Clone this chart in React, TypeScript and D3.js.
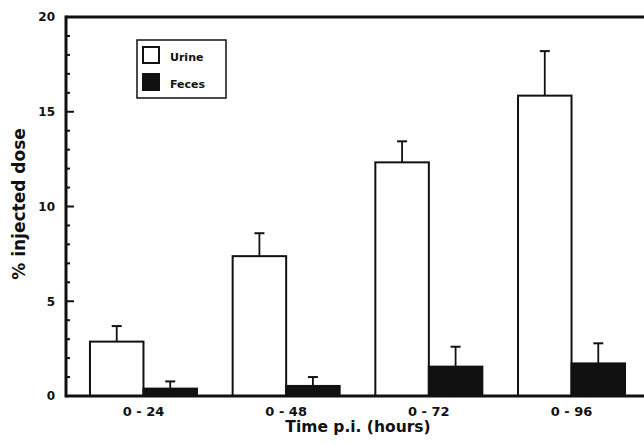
import React from 'react';
import * as d3 from 'd3';

// values
const categories = ['0 - 24', '0 - 48', '0 - 72', '0 - 96'];
const seriesNames = ['Urine', 'Feces'];
const urine = [2.87, 7.38, 12.33, 15.85];
const urineErr = [0.82, 1.21, 1.11, 2.35];
const feces = [0.39, 0.53, 1.55, 1.72];
const fecesErr = [0.38, 0.47, 1.05, 1.06];
const majorTicks = [0, 5, 10, 15, 20];

const W = 644;
const H = 445;
const left = 66;
const top = 17;
const bottom = 396;
const font = '"DejaVu Sans", Verdana, sans-serif';

export default function App() {
  const x = d3.scaleBand<string>()
    .domain(categories)
    .range([left, 649])
    .paddingInner(0.25)
    .paddingOuter(0.168);
  const sub = d3.scaleBand<string>().domain(seriesNames).range([0, x.bandwidth()]);
  const y = d3.scaleLinear().domain([0, 20]).range([bottom, top]);
  const minor = d3.range(0, 21);

  const series = [
    { name: 'Urine', values: urine, errs: urineErr, fill: '#fff' },
    { name: 'Feces', values: feces, errs: fecesErr, fill: '#111' },
  ];

  return (
    <svg width={W} height={H} style={{ position: 'absolute', left: 0, top: 0, background: '#fff' }}>
      {/* bars + error bars */}
      {series.map(s =>
        categories.map((c, i) => {
          const bx = (x(c) ?? 0) + (sub(s.name) ?? 0);
          const bw = sub.bandwidth();
          const cx = bx + bw / 2;
          const yTop = y(s.values[i]);
          const yErr = y(s.values[i] + s.errs[i]);
          return (
            <g key={s.name + c}>
              <line x1={cx} x2={cx} y1={yTop} y2={yErr} stroke="#111" strokeWidth={1.8} />
              <line x1={cx - 5} x2={cx + 5} y1={yErr} y2={yErr} stroke="#111" strokeWidth={2} />
              <rect x={bx} y={yTop} width={bw} height={bottom - yTop} fill={s.fill} stroke="#111" strokeWidth={2} />
            </g>
          );
        })
      )}

      {/* frame */}
      <line x1={left} x2={W} y1={top} y2={top} stroke="#111" strokeWidth={3} />
      <line x1={left} x2={W} y1={bottom} y2={bottom} stroke="#111" strokeWidth={3} />
      <line x1={left} x2={left} y1={top - 1.5} y2={bottom + 1.5} stroke="#111" strokeWidth={3} />

      {/* y ticks, inward */}
      {minor.map(v => (
        <line key={'t' + v} x1={left} x2={left + (v % 5 === 0 ? 8 : 4)} y1={y(v)} y2={y(v)} stroke="#111" strokeWidth={2} />
      ))}
      {majorTicks.map(v => (
        <text key={'l' + v} x={55} y={y(v)} dy="0.36em" textAnchor="end" fontFamily={font} fontWeight={700} fontSize={12} fill="#111">
          {v}
        </text>
      ))}

      {/* x labels */}
      {categories.map(c => (
        <text key={c} x={(x(c) ?? 0) + x.bandwidth() / 2} y={416} textAnchor="middle" fontFamily={font} fontWeight={700} fontSize={13} fill="#111">
          {c}
        </text>
      ))}

      <text x={358} y={432} textAnchor="middle" fontFamily={font} fontWeight={700} fontSize={15.5} fill="#111">
        Time p.i. (hours)
      </text>
      <text transform="translate(25,204) rotate(-90)" textAnchor="middle" fontFamily={font} fontWeight={700} fontSize={17} fill="#111">
        % injected dose
      </text>

      {/* legend */}
      <rect x={137} y={40} width={89} height={58} fill="#fff" stroke="#111" strokeWidth={1.5} />
      <rect x={143} y={47} width={16} height={16} fill="#fff" stroke="#111" strokeWidth={2} />
      <rect x={143} y={74} width={16} height={16} fill="#111" stroke="#111" strokeWidth={2} />
      <text x={170} y={61} fontFamily={font} fontWeight={700} fontSize={11} fill="#111">Urine</text>
      <text x={170} y={88} fontFamily={font} fontWeight={700} fontSize={11} fill="#111">Feces</text>
    </svg>
  );
}
